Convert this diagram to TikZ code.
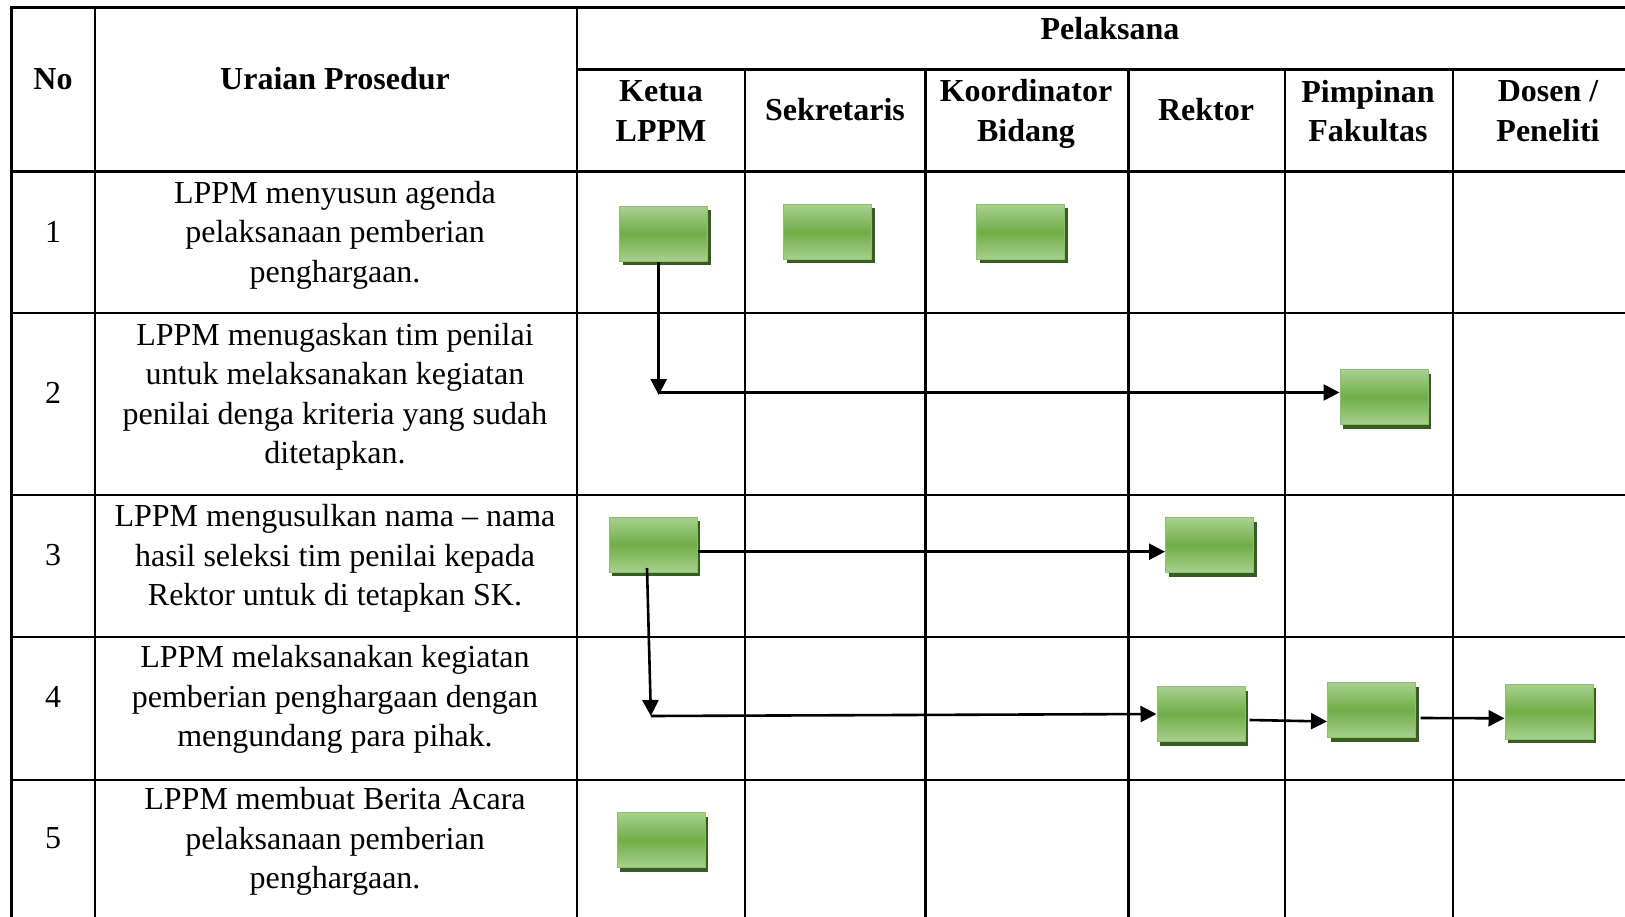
\documentclass[tikz,border=0pt]{standalone}
\usepackage{fontspec}
\setmainfont{Liberation Serif}
\usetikzlibrary{arrows.meta,shadows,calc}
\definecolor{gl}{RGB}{168,208,142}
\definecolor{gm}{RGB}{112,173,71}
\definecolor{ge}{RGB}{136,194,104}
\definecolor{gs}{RGB}{58,90,38}
\tikzset{
  tline/.style={line width=2.3pt, draw=black},
  gbox/.style={rectangle, minimum width=88pt, minimum height=55pt, inner sep=0pt,
    draw=ge, line width=1pt, top color=gl, bottom color=gl, middle color=gm,
    general shadow={fill=gs, shadow xshift=3pt, shadow yshift=-4pt}},
  arr/.style={line width=2.6pt, draw=black, -{Triangle[length=16pt,width=16pt]}},
  hd/.style={font=\fontsize{32}{39.4}\selectfont\bfseries, align=center, inner sep=0pt},
  tx/.style={font=\fontsize{32}{39.4}\selectfont, align=center, inner sep=0pt}
}
\begin{document}
\begin{tikzpicture}[x=1pt,y=-1pt]
\fill[white] (0,0) rectangle (1625,917);
\useasboundingbox (0,0) rectangle (1625,917);

% table lines
\draw[tline] (11.5,917) -- (11.5,7.5) -- (1625,7.5);
\foreach \yy in {171.5,313,495,637,780} {\draw[tline] (11.5,\yy) -- (1625,\yy);}
\draw[tline] (577.3,69.5) -- (1625,69.5);
\foreach \xx in {95.3,577.3} {\draw[tline] (\xx,7.5) -- (\xx,917);}
\foreach \xx in {745.2,925.5,1128.6,1285.1,1453} {\draw[tline] (\xx,69.5) -- (\xx,917);}

% headers
\node[hd] (hNo) at (53,79) {No};
\node[hd] (hUr) at (335,79) {Uraian Prosedur};
\node[hd] (hPel) at (1110,29) {Pelaksana};
\node[hd] (hKet) at (661,111) {Ketua\\LPPM};
\node[hd] (hSek) at (835,110) {Sekretaris};
\node[hd] (hKoo) at (1026,114) {Koordinator\\Bidang};
\node[hd] (hRek) at (1206,110) {Rektor};
\node[hd] (hPim) at (1368,111) {Pimpinan\\Fakultas};
\node[hd] (hDos) at (1548,111) {Dosen /\\Peneliti};

% rows
\node[tx] (n1) at (53,232) {1};
\node[tx] (t1) at (335,235) {LPPM menyusun agenda\\pelaksanaan pemberian\\penghargaan.};
\node[tx] (n2) at (53,393) {2};
\node[tx] (t2) at (335,397) {LPPM menugaskan tim penilai\\untuk melaksanakan kegiatan\\penilai denga kriteria yang sudah\\ditetapkan.};
\node[tx] (n3) at (53,555.5) {3};
\node[tx] (t3) at (335,558.5) {LPPM mengusulkan nama -- nama\\hasil seleksi tim penilai kepada\\Rektor untuk di tetapkan SK.};
\node[tx] (n4) at (53,696.5) {4};
\node[tx] (t4) at (335,699.5) {LPPM melaksanakan kegiatan\\pemberian penghargaan dengan\\mengundang para pihak.};
\node[tx] (n5) at (53,838.5) {5};
\node[tx] (t5) at (335,841.5) {LPPM membuat Berita Acara\\pelaksanaan pemberian\\penghargaan.};

% boxes
\node[gbox] (b1) at (663.5,234) {};
\node[gbox] (b2) at (827.5,232) {};
\node[gbox] (b3) at (1020.5,232) {};
\node[gbox] (b4) at (1384,397) {};
\node[gbox] (b5) at (653,544.5) {};
\node[gbox] (b6) at (1209.5,545) {};
\node[gbox] (b7) at (1201,714) {};
\node[gbox] (b8) at (1371.5,710) {};
\node[gbox] (b9) at (1549,711.5) {};
\node[gbox] (b10) at (661,840) {};

% connectors
\coordinate (c1) at (658.7,395);
\coordinate (c1h) at (658.7,392.5);
\draw[arr] (b1.south -| c1) -- (c1);
\draw[arr] (c1h) -- (c1h -| b4.west);

\coordinate (y3) at (0,551.7);
\draw[arr] (b5.east |- y3) -- (b6.west |- y3);

\coordinate (c3top) at (647,568);
\coordinate (c3) at (650.9,716);
\draw[arr] (c3top) -- (c3);
\draw[arr] (c3) -- (b7.west);

\draw[arr] ([shift={(4,6)}]b7.east) -- ([shift={(0,11.5)}]b8.west);
\draw[arr] ([shift={(4.7,8)}]b8.east) -- ([shift={(0,6.8)}]b9.west);
\end{tikzpicture}
\end{document}
